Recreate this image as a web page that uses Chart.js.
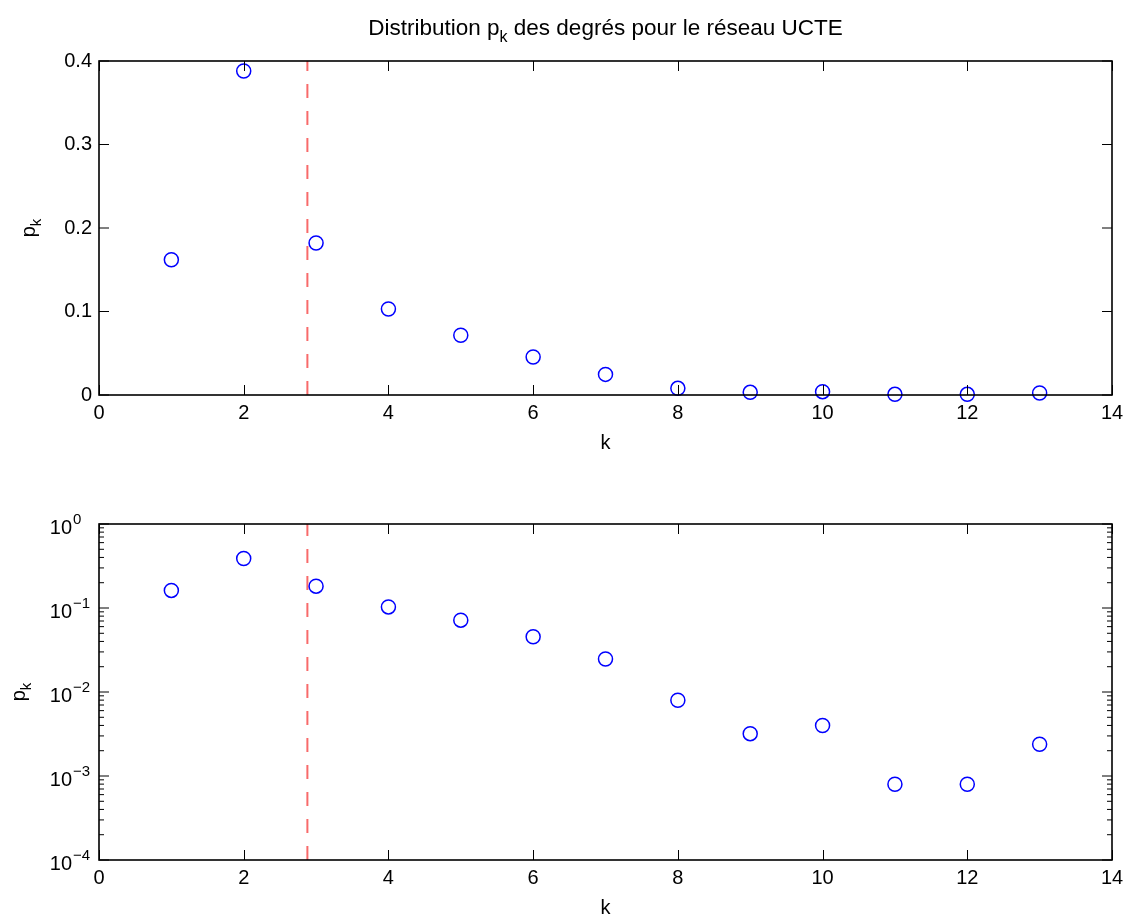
<!DOCTYPE html>
<html><head><meta charset="utf-8">
<script src="https://cdn.jsdelivr.net/npm/chart.js@4/dist/chart.umd.min.js"></script>
<style>
html,body{margin:0;padding:0;background:#fff;}
#wrap{position:relative;width:1130px;height:918px;overflow:hidden;}
canvas{position:absolute;left:0;}
</style>
</head><body>
<div id="wrap">
<canvas id="c1" width="1130" height="459" style="top:0;width:1130px;height:459px"></canvas>
<canvas id="c2" width="1130" height="459" style="top:459px;width:1130px;height:459px"></canvas>
</div>
<script>
// ---- data ----
const kValues = [1, 2, 3, 4, 5, 6, 7, 8, 9, 10, 11, 12, 13];
const pkValues = [0.162, 0.388, 0.182, 0.103, 0.0716, 0.0455, 0.0247, 0.00797, 0.00319, 0.00399, 0.000797, 0.000797, 0.00239];
const meanDegree = 2.88;
const xTicks = [0, 2, 4, 6, 8, 10, 12, 14];
const yTicksLinear = [0, 0.1, 0.2, 0.3, 0.4];
const yDecades = [-4, -3, -2, -1, 0];
const titleMain = 'Distribution p';
const titleSub = 'k';
const titleRest = ' des degrés pour le réseau UCTE';
const yLabelMain = 'p';
const yLabelSub = 'k';
const xLabel = 'k';

const FONT = '"Liberation Sans", Arial, Helvetica, sans-serif';

function drawSubText(ctx, main, sub, rest, x, y, size, subSize, subDrop, align) {
  ctx.font = size + 'px ' + FONT;
  const w1 = ctx.measureText(main).width;
  const w3 = rest ? ctx.measureText(rest).width : 0;
  ctx.font = subSize + 'px ' + FONT;
  const w2 = ctx.measureText(sub).width;
  const total = w1 + w2 + w3;
  let sx = align === 'center' ? x - total / 2 : x;
  ctx.textAlign = 'left';
  ctx.textBaseline = 'alphabetic';
  ctx.font = size + 'px ' + FONT;
  ctx.fillText(main, sx, y);
  ctx.font = subSize + 'px ' + FONT;
  ctx.fillText(sub, sx + w1, y + subDrop);
  if (rest) {
    ctx.font = size + 'px ' + FONT;
    ctx.fillText(rest, sx + w1 + w2, y);
  }
}

const decor = {
  id: 'decor',
  afterDraw(chart, args, opts) {
    const ctx = chart.ctx, a = chart.chartArea, xs = chart.scales.x, ys = chart.scales.y;
    ctx.save();
    ctx.strokeStyle = '#000';
    ctx.fillStyle = '#000';
    const seg = (x1, y1, x2, y2) => { ctx.beginPath(); ctx.moveTo(x1, y1); ctx.lineTo(x2, y2); ctx.stroke(); };
    ctx.lineWidth = 1;
    for (const v of xTicks) {
      const px = Math.round(xs.getPixelForValue(v)) + 0.5;
      seg(px, a.bottom, px, a.bottom - 10);
      seg(px, a.top, px, a.top + 10);
    }
    if (opts.log) {
      for (const e of yDecades) {
        const py = ys.getPixelForValue(Math.pow(10, e));
        seg(a.left, py, a.left + 10, py);
        seg(a.right, py, a.right - 10, py);
        if (e < 0) {
          for (let m = 2; m <= 9; m++) {
            const pm = ys.getPixelForValue(m * Math.pow(10, e));
            seg(a.left, pm, a.left + 5, pm);
            seg(a.right, pm, a.right - 5, pm);
          }
        }
        // labels 10^e
        ctx.font = '20px ' + FONT;
        ctx.textAlign = 'right';
        ctx.textBaseline = 'alphabetic';
        ctx.fillText('10', 72, py + 10);
        ctx.font = '15px ' + FONT;
        ctx.textAlign = 'left';
        ctx.fillText(e === 0 ? '0' : '\u2212' + (-e), 73, py);
      }
    } else {
      for (const v of yTicksLinear) {
        const py = ys.getPixelForValue(v);
        seg(a.left, py, a.left + 10, py);
        seg(a.right, py, a.right - 10, py);
      }
    }
    ctx.lineWidth = 1.6;
    ctx.strokeRect(a.left, a.top, a.right - a.left, a.bottom - a.top);

    // title
    if (opts.title) {
      drawSubText(ctx, titleMain, titleSub, titleRest, (a.left + a.right) / 2, 35, 22.5, 16, 7, 'center');
    }
    // x label
    ctx.font = '20px ' + FONT;
    ctx.textAlign = 'center';
    ctx.textBaseline = 'alphabetic';
    ctx.fillText(xLabel, (a.left + a.right) / 2, a.bottom + opts.xLabelOffset);
    // y label (rotated)
    ctx.save();
    ctx.translate(opts.yLabelX, (a.top + a.bottom) / 2);
    ctx.rotate(-Math.PI / 2);
    drawSubText(ctx, yLabelMain, yLabelSub, '', 0, 0, 20, 15, 6, 'center');
    ctx.restore();
    ctx.restore();
  }
};

function makeChart(id, isLog) {
  const yMin = isLog ? 1e-4 : 0;
  const yMax = isLog ? 1 : 0.4;
  return new Chart(document.getElementById(id), {
    type: 'scatter',
    data: {
      datasets: [
        {
          label: 'mean',
          data: [{x: meanDegree, y: yMin}, {x: meanDegree, y: yMax}],
          showLine: true,
          borderColor: '#f86a6a',
          borderWidth: 2,
          borderDash: [14, 13],
          pointRadius: 0,
          order: 2
        },
        {
          label: 'pk',
          data: kValues.map((k, i) => ({x: k, y: pkValues[i]})),
          showLine: false,
          pointStyle: 'circle',
          pointRadius: 7,
          pointBorderColor: '#0000ff',
          pointBackgroundColor: 'rgba(0,0,0,0)',
          pointBorderWidth: 1.5,
          clip: false,
          order: 1
        }
      ]
    },
    options: {
      responsive: false,
      animation: false,
      events: [],
      layout: { padding: { left: 0, right: 18, top: isLog ? 65 : 61, bottom: 0 } },
      plugins: {
        legend: { display: false },
        tooltip: { enabled: false },
        decor: { log: isLog, title: !isLog, xLabelOffset: 54, yLabelX: isLog ? 25 : 35 }
      },
      scales: {
        x: {
          type: 'linear', min: 0, max: 14,
          afterFit: s => { s.height = isLog ? 58 : 64; },
          afterBuildTicks: s => { s.ticks = xTicks.map(v => ({value: v})); },
          grid: { display: false, drawTicks: false },
          border: { display: false },
          ticks: { color: '#000', font: { size: 20, family: FONT }, padding: 6, maxRotation: 0 }
        },
        y: isLog ? {
          type: 'logarithmic', min: yMin, max: yMax,
          afterFit: s => { s.width = 99; },
          grid: { display: false, drawTicks: false },
          border: { display: false },
          ticks: { display: false }
        } : {
          type: 'linear', min: 0, max: 0.4,
          afterFit: s => { s.width = 99; },
          afterBuildTicks: s => { s.ticks = yTicksLinear.map(v => ({value: v})); },
          grid: { display: false, drawTicks: false },
          border: { display: false },
          ticks: { color: '#000', font: { size: 20, family: FONT }, padding: 7 }
        }
      }
    },
    plugins: [decor]
  });
}
makeChart('c1', false);
makeChart('c2', true);
</script>
</body></html>
